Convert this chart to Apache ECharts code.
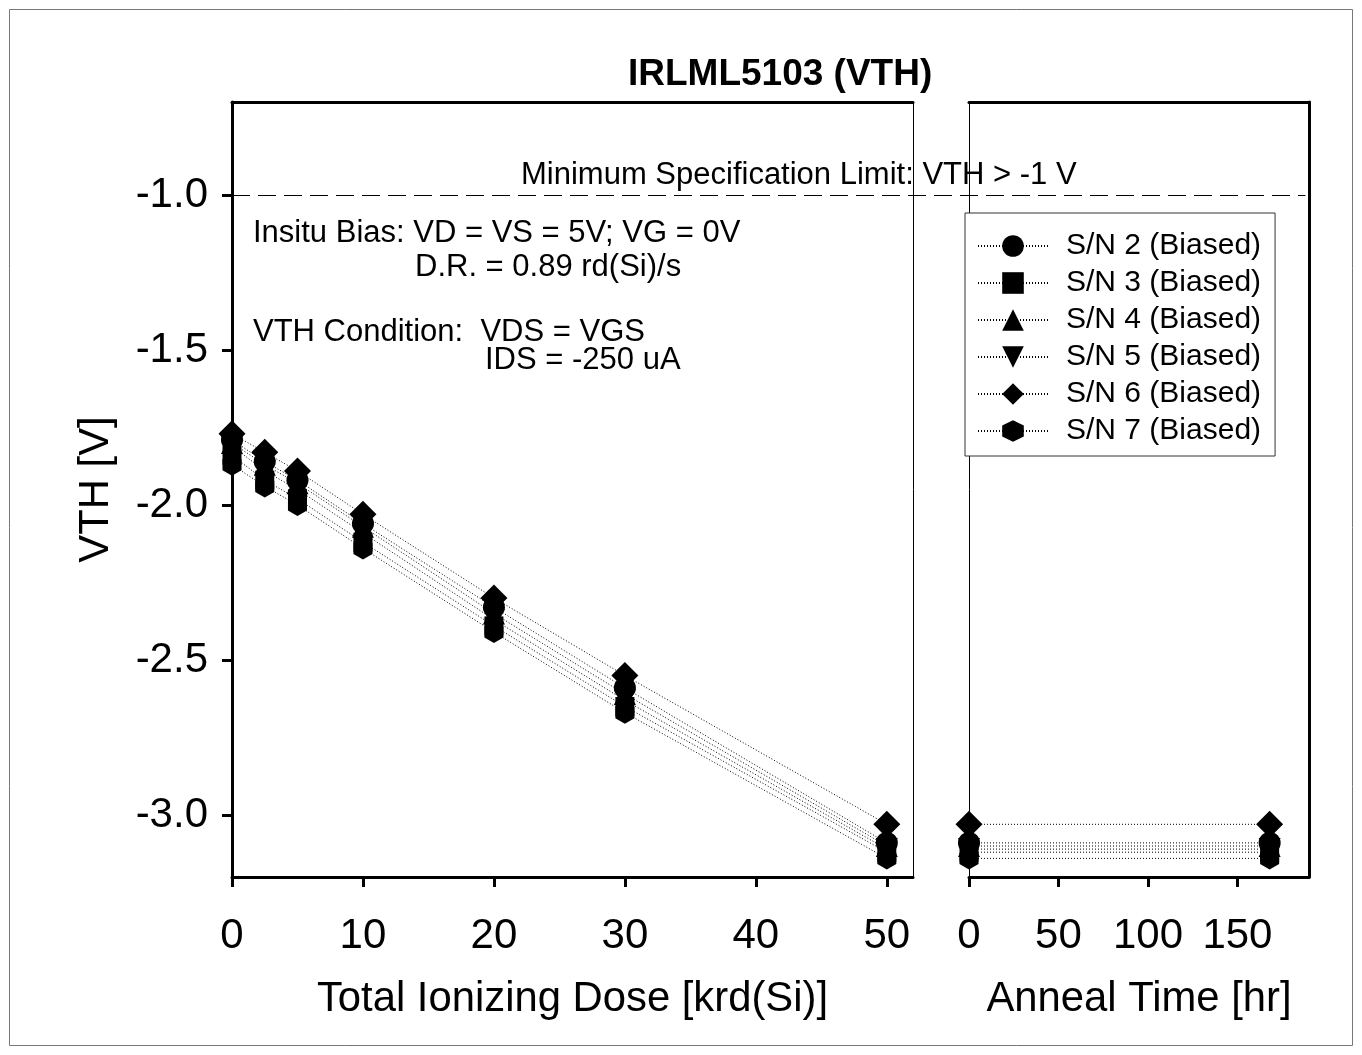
<!DOCTYPE html>
<html><head><meta charset="utf-8">
<script src="https://cdn.jsdelivr.net/npm/echarts@6/dist/echarts.min.js"></script>
<style>html,body{margin:0;padding:0;background:#fff}#c{width:1362px;height:1055px}</style>
</head><body><div id="c"></div>
<script>
// ---- data ----
const doseX = [0, 2.5, 5, 10, 20, 30, 50];
const annealX = [0, 168];
const sn2Dose = [-1.79, -1.86, -1.92, -2.06, -2.33, -2.59, -3.09];
const sn3Dose = [-1.84, -1.92, -1.98, -2.12, -2.39, -2.65, -3.12];
const sn4Dose = [-1.80, -1.87, -1.93, -2.07, -2.35, -2.61, -3.10];
const sn5Dose = [-1.81, -1.89, -1.95, -2.09, -2.37, -2.63, -3.11];
const sn6Dose = [-1.77, -1.83, -1.89, -2.03, -2.30, -2.55, -3.03];
const sn7Dose = [-1.87, -1.94, -2.00, -2.14, -2.41, -2.67, -3.14];
const sn2Anneal = [-3.09, -3.09];
const sn3Anneal = [-3.12, -3.12];
const sn4Anneal = [-3.10, -3.10];
const sn5Anneal = [-3.11, -3.11];
const sn6Anneal = [-3.03, -3.03];
const sn7Anneal = [-3.14, -3.14];
const seriesNames = ['S/N 2 (Biased)', 'S/N 3 (Biased)', 'S/N 4 (Biased)', 'S/N 5 (Biased)', 'S/N 6 (Biased)', 'S/N 7 (Biased)'];
const yTicks = [-3.0, -2.5, -2.0, -1.5, -1.0];
const doseTicks = [0, 10, 20, 30, 40, 50];
const annealTicks = [0, 50, 100, 150];
const specLimit = -1.0;

// ---- styling ----
const FONT = 'Liberation Sans, Arial, sans-serif';
const hexPath = 'path://M50,0 L93.3,25 L93.3,75 L50,100 L6.7,75 L6.7,25 Z';
const markers = [
  {symbol: 'circle', size: 22, rotate: 0},
  {symbol: 'rect', size: 19, rotate: 0},
  {symbol: 'triangle', size: 22, rotate: 0},
  {symbol: 'triangle', size: 22, rotate: 180},
  {symbol: 'diamond', size: 27, rotate: 0},
  {symbol: hexPath, size: 22, rotate: 0}
];
const doseSets = [sn2Dose, sn3Dose, sn4Dose, sn5Dose, sn6Dose, sn7Dose];
const annealSets = [sn2Anneal, sn3Anneal, sn4Anneal, sn5Anneal, sn6Anneal, sn7Anneal];

function mkSeries(name, xs, ys, m, xi, yi) {
  return {
    name: name, type: 'line', xAxisIndex: xi, yAxisIndex: yi,
    data: xs.map((x, i) => [x, ys[i]]),
    symbol: m.symbol, symbolSize: m.size, symbolRotate: m.rotate, symbolKeepAspect: true,
    itemStyle: {color: '#000', borderWidth: 0},
    lineStyle: {color: '#000', width: 1, type: [1, 2]},
    clip: false, emphasis: {disabled: true}, animation: false
  };
}
const series = [];
seriesNames.forEach((n, i) => series.push(mkSeries(n, doseX, doseSets[i], markers[i], 0, 0)));
seriesNames.forEach((n, i) => series.push(mkSeries(n, annealX, annealSets[i], markers[i], 2, 2)));

const thick = {show: true, onZero: false, lineStyle: {color: '#000', width: 3}};
const thin = {show: true, onZero: false, lineStyle: {color: '#000', width: 1}};
const labelStyle = {fontSize: 42, fontFamily: FONT, color: '#000'};
const nameStyle = {fontSize: 41.8, fontFamily: FONT, color: '#000'};

const chart = echarts.init(document.getElementById('c'), null, {renderer: 'canvas'});
chart.setOption({
  backgroundColor: '#fff',
  animation: false,
  title: {
    text: 'IRLML5103 (VTH)', left: 628, top: 56, padding: 0,
    textStyle: {fontSize: 37, fontWeight: 'bold', fontFamily: FONT, color: '#000'}
  },
  grid: [
    {left: 232, top: 102, width: 681, height: 775},
    {left: 969, top: 102, width: 340, height: 775}
  ],
  legend: {
    data: seriesNames, orient: 'vertical', left: 965, top: 213,
    padding: [18, 14, 10, 12], itemWidth: 70, itemHeight: 27, itemGap: 7,
    borderColor: '#333', borderWidth: 1, backgroundColor: '#fff',
    textStyle: {fontSize: 30, fontFamily: FONT, color: '#000', padding: [0, 0, 0, 13]},
    selectedMode: false
  },
  xAxis: [
    {gridIndex: 0, type: 'value', position: 'bottom', min: 0, max: 52,
     name: 'Total Ionizing Dose [krd(Si)]', nameLocation: 'middle', nameGap: 101, nameTextStyle: nameStyle,
     axisLine: thick, axisTick: {show: true, customValues: doseTicks, length: 10, lineStyle: {color: '#000', width: 3}},
     axisLabel: Object.assign({customValues: doseTicks, margin: 38}, labelStyle), splitLine: {show: false}},
    {gridIndex: 0, type: 'value', position: 'top', min: 0, max: 52,
     axisLine: thick, axisTick: {show: false}, axisLabel: {show: false}, splitLine: {show: false}},
    {gridIndex: 1, type: 'value', position: 'bottom', min: 0, max: 190,
     name: 'Anneal Time [hr]', nameLocation: 'middle', nameGap: 101, nameTextStyle: nameStyle,
     axisLine: thick, axisTick: {show: true, customValues: annealTicks, length: 10, lineStyle: {color: '#000', width: 3}},
     axisLabel: Object.assign({customValues: annealTicks, margin: 38}, labelStyle), splitLine: {show: false}},
    {gridIndex: 1, type: 'value', position: 'top', min: 0, max: 190,
     axisLine: thick, axisTick: {show: false}, axisLabel: {show: false}, splitLine: {show: false}}
  ],
  yAxis: [
    {gridIndex: 0, type: 'value', position: 'left', min: -3.2, max: -0.7,
     name: 'VTH [V]', nameLocation: 'middle', nameGap: 115, nameTextStyle: nameStyle,
     axisLine: thick, axisTick: {show: true, customValues: yTicks, length: 10, lineStyle: {color: '#000', width: 3}},
     axisLabel: Object.assign({customValues: yTicks, margin: 24, formatter: v => v.toFixed(1)}, labelStyle),
     splitLine: {show: false}},
    {gridIndex: 0, type: 'value', position: 'right', min: -3.2, max: -0.7,
     axisLine: thin, axisTick: {show: false}, axisLabel: {show: false}, splitLine: {show: false}},
    {gridIndex: 1, type: 'value', position: 'left', min: -3.2, max: -0.7,
     axisLine: thin, axisTick: {show: false}, axisLabel: {show: false}, splitLine: {show: false}},
    {gridIndex: 1, type: 'value', position: 'right', min: -3.2, max: -0.7,
     axisLine: thick, axisTick: {show: false}, axisLabel: {show: false}, splitLine: {show: false}}
  ],
  series: series
});

// spec-limit dashed line and annotations
const ySpec = Math.round(chart.convertToPixel({yAxisIndex: 0}, specLimit)) + 0.5;
const xStart = chart.convertToPixel({xAxisIndex: 0}, 0);
const xEnd = chart.convertToPixel({xAxisIndex: 2}, 188);
const txt = (s, x, y, size) => ({
  type: 'text', x: x, y: y, z: 100,
  style: {text: s, fontSize: size, fontFamily: FONT, fill: '#000', verticalAlign: 'middle', align: 'left'}
});
chart.setOption({
  graphic: [
    {type: 'rect', shape: {x: 9.5, y: 9.5, width: 1343, height: 1036}, style: {fill: 'none', stroke: '#777', lineWidth: 1}, z: -1, silent: true},
    {type: 'line', shape: {x1: xStart, y1: ySpec, x2: xEnd, y2: ySpec}, style: {stroke: '#000', lineWidth: 1, lineDash: [18, 8]}, z: 50, silent: true},
    txt('Minimum Specification Limit: VTH > -1 V', 521, ySpec - 20, 31),
    txt('Insitu Bias: VD = VS = 5V; VG = 0V', 253, 233, 31),
    txt('D.R. = 0.89 rd(Si)/s', 415, 267, 31),
    txt('VTH Condition:  VDS = VGS', 253, 332, 31),
    txt('IDS = -250 uA', 485, 360, 31)
  ]
});
</script>
</body></html>
